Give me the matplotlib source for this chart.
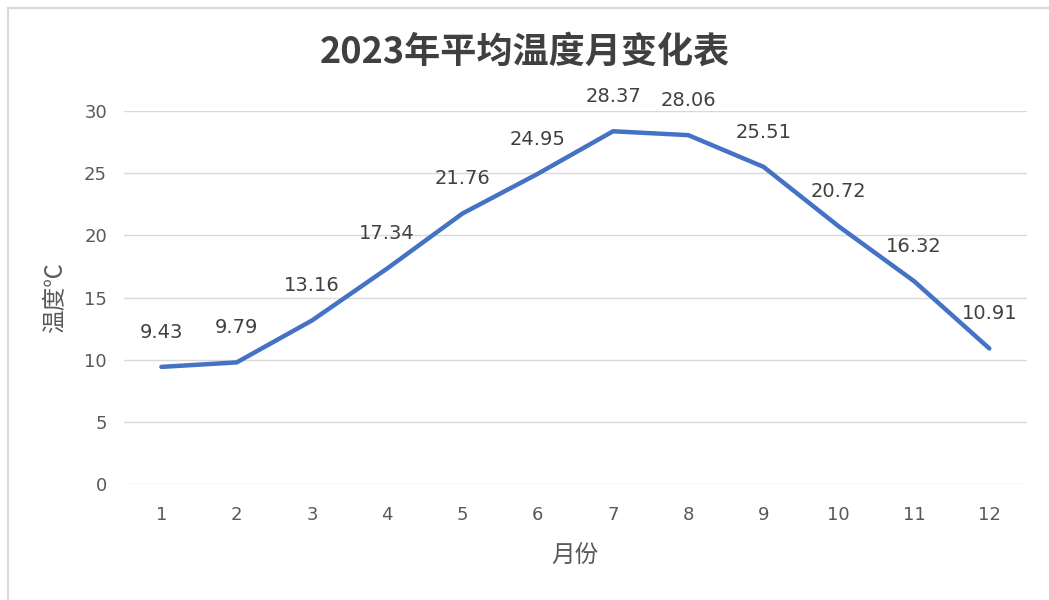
import matplotlib
matplotlib.use("Agg")
import matplotlib.pyplot as plt
from matplotlib.lines import Line2D

plt.rcParams['font.family'] = ['Noto Sans CJK SC', 'DejaVu Sans']
num_font = ['DejaVu Sans', 'Noto Sans CJK SC']

months = [1, 2, 3, 4, 5, 6, 7, 8, 9, 10, 11, 12]
temps = [9.43, 9.79, 13.16, 17.34, 21.76, 24.95, 28.37, 28.06, 25.51, 20.72, 16.32, 10.91]
yticks = [0, 5, 10, 15, 20, 25, 30]

fig = plt.figure(figsize=(10.49, 6.0), dpi=100)
ax = fig.add_axes([0.118, 0.193, 0.861, 0.622])

# chart frame lines (top and left, like the screenshot)
fig.add_artist(Line2D([8/1049, 1.0], [1 - 8/600, 1 - 8/600], color='#d9d9d9', lw=1.5,
                      transform=fig.transFigure))
fig.add_artist(Line2D([8/1049, 8/1049], [0, 1 - 8/600], color='#d9d9d9', lw=1.5,
                      transform=fig.transFigure))

ax.plot(months, temps, color='#4472C4', lw=3.2, solid_capstyle='round', zorder=3)
for m, t in zip(months, temps):
    ax.annotate(f'{t:.2f}', (m, t), xytext=(0, 25), textcoords='offset points',
                ha='center', va='center', fontsize=14, color='#404040', family=num_font)

ax.set_xlim(0.5, 12.5)
ax.set_ylim(0, 30)
ax.set_xticks(months)
ax.set_yticks(yticks)
ax.grid(axis='y', color='#d9d9d9', lw=1)
ax.set_axisbelow(True)
for s in ax.spines.values():
    s.set_visible(False)
ax.tick_params(length=0, labelsize=13, colors='#595959')
ax.tick_params(axis='x', pad=16)
ax.tick_params(axis='y', pad=12)
for lab in ax.get_xticklabels() + ax.get_yticklabels():
    lab.set_family(num_font)

ax.set_xlabel('月份', fontsize=17, color='#595959', labelpad=14)
ax.set_ylabel('温度℃', fontsize=17, color='#595959', labelpad=12)
fig.text(0.5, 1 - 52/600, '2023年平均温度月变化表', ha='center', va='center',
         fontsize=26, fontweight='bold', color='#404040')

fig.savefig('out.png', dpi=100)
